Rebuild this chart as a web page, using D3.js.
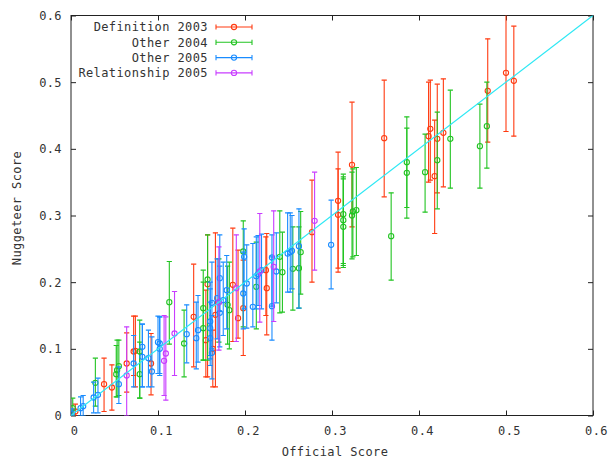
<!DOCTYPE html>
<html>
<head>
<meta charset="utf-8">
<script src="https://cdn.jsdelivr.net/npm/d3@7"></script>
<style>
  body { margin: 0; background: #fff; }
  text { font-family: "DejaVu Sans Mono", monospace; font-size: 12px; letter-spacing: 0.4px; fill: #333; }
</style>
</head>
<body>
<svg id="chart"></svg>
<script>
// data: [official, nuggeteer, low, high]
const definition2003 = [
  [0.500, 0.514, 0.426, 0.620], [0.509, 0.502, 0.419, 0.584], [0.479, 0.487, 0.410, 0.565],
  [0.360, 0.416, 0.328, 0.503], [0.428, 0.424, 0.343, 0.505], [0.413, 0.430, 0.353, 0.503],
  [0.411, 0.419, 0.350, 0.500], [0.418, 0.359, 0.273, 0.443], [0.421, 0.415, 0.334, 0.497],
  [0.323, 0.376, 0.283, 0.470], [0.307, 0.322, 0.221, 0.395], [0.307, 0.301, 0.215, 0.370],
  [0.277, 0.275, 0.200, 0.353], [0.225, 0.191, 0.121, 0.273], [0.224, 0.218, 0.150, 0.268],
  [0.198, 0.161, 0.090, 0.233], [0.192, 0.146, 0.116, 0.248], [0.186, 0.196, 0.111, 0.281],
  [0.166, 0.151, 0.043, 0.274], [0.163, 0.100, 0.043, 0.128], [0.157, 0.197, 0.058, 0.271],
  [0.155, 0.113, 0.058, 0.188], [0.141, 0.148, 0.073, 0.227], [0.092, 0.078, 0.031, 0.123],
  [0.072, 0.096, 0.060, 0.149], [0.038, 0.047, 0.006, 0.086], [0.047, 0.042, 0.008, 0.076],
  [0.064, 0.078, 0.035, 0.124], [0.074, 0.097, 0.043, 0.149], [0.005, 0.006, 0.000, 0.017]
];
const other2004 = [
  [0.478, 0.434, 0.371, 0.500], [0.470, 0.404, 0.341, 0.467], [0.436, 0.415, 0.341, 0.488],
  [0.421, 0.383, 0.310, 0.455], [0.407, 0.365, 0.305, 0.422], [0.386, 0.380, 0.296, 0.448],
  [0.386, 0.364, 0.312, 0.431], [0.368, 0.269, 0.203, 0.334], [0.328, 0.308, 0.240, 0.372],
  [0.324, 0.306, 0.238, 0.370], [0.313, 0.302, 0.222, 0.358], [0.313, 0.293, 0.228, 0.362],
  [0.313, 0.283, 0.225, 0.355], [0.323, 0.300, 0.235, 0.365], [0.264, 0.245, 0.182, 0.306],
  [0.262, 0.221, 0.161, 0.283], [0.255, 0.220, 0.158, 0.283], [0.240, 0.238, 0.154, 0.307],
  [0.243, 0.215, 0.155, 0.275], [0.213, 0.193, 0.130, 0.260], [0.198, 0.246, 0.133, 0.292],
  [0.180, 0.166, 0.107, 0.224], [0.182, 0.158, 0.100, 0.230], [0.170, 0.170, 0.110, 0.235],
  [0.157, 0.204, 0.083, 0.271], [0.152, 0.161, 0.083, 0.218], [0.152, 0.131, 0.083, 0.200],
  [0.130, 0.108, 0.058, 0.158], [0.113, 0.170, 0.107, 0.231], [0.079, 0.096, 0.026, 0.143],
  [0.079, 0.062, 0.026, 0.110], [0.053, 0.068, 0.028, 0.113], [0.052, 0.062, 0.028, 0.105],
  [0.055, 0.074, 0.030, 0.113], [0.028, 0.049, 0.014, 0.086], [0.002, 0.011, 0.000, 0.026]
];
const other2005 = [
  [0.299, 0.256, 0.190, 0.323], [0.262, 0.254, 0.161, 0.310], [0.249, 0.243, 0.185, 0.304],
  [0.252, 0.245, 0.185, 0.304], [0.254, 0.247, 0.190, 0.300], [0.236, 0.216, 0.169, 0.274],
  [0.231, 0.237, 0.164, 0.271], [0.231, 0.164, 0.113, 0.238], [0.213, 0.209, 0.160, 0.268],
  [0.215, 0.212, 0.165, 0.270], [0.219, 0.218, 0.160, 0.272], [0.209, 0.163, 0.133, 0.258],
  [0.202, 0.198, 0.131, 0.256], [0.198, 0.183, 0.130, 0.245], [0.199, 0.238, 0.160, 0.280],
  [0.179, 0.188, 0.130, 0.240], [0.175, 0.173, 0.120, 0.230], [0.171, 0.154, 0.103, 0.224],
  [0.168, 0.176, 0.115, 0.235], [0.171, 0.206, 0.156, 0.271], [0.162, 0.169, 0.100, 0.230],
  [0.160, 0.141, 0.090, 0.200], [0.160, 0.131, 0.085, 0.190], [0.160, 0.116, 0.075, 0.170],
  [0.162, 0.094, 0.055, 0.150], [0.146, 0.128, 0.080, 0.180], [0.144, 0.116, 0.070, 0.170],
  [0.133, 0.122, 0.079, 0.166], [0.102, 0.108, 0.063, 0.148], [0.102, 0.100, 0.060, 0.148],
  [0.100, 0.110, 0.063, 0.149], [0.093, 0.066, 0.043, 0.118], [0.089, 0.086, 0.043, 0.128],
  [0.082, 0.103, 0.043, 0.137], [0.082, 0.088, 0.043, 0.137], [0.072, 0.078, 0.043, 0.120],
  [0.055, 0.047, 0.018, 0.073], [0.031, 0.031, 0.004, 0.056], [0.026, 0.027, 0.004, 0.050],
  [0.014, 0.014, 0.000, 0.030], [0.011, 0.011, 0.000, 0.028], [0.001, 0.003, 0.000, 0.010]
];
const relationship2005 = [
  [0.280, 0.292, 0.218, 0.365], [0.233, 0.223, 0.141, 0.307], [0.217, 0.216, 0.140, 0.303],
  [0.190, 0.191, 0.111, 0.271], [0.170, 0.170, 0.098, 0.253], [0.119, 0.123, 0.060, 0.186],
  [0.109, 0.093, 0.023, 0.148], [0.107, 0.082, 0.030, 0.150], [0.064, 0.060, 0.000, 0.133]
];
const seriesNames = ["Definition 2003", "Other 2004", "Other 2005", "Relationship 2005"];
const seriesColors = ["#ff3a10", "#22c422", "#1a8cff", "#c83cff"];
const tickValues = [0, 0.1, 0.2, 0.3, 0.4, 0.5, 0.6];
const diagonal = [0, 0.6];

const allSeries = [definition2003, other2004, other2005, relationship2005];

const width = 608, height = 460;
const plotLeft = 71, plotRight = 593, plotTop = 15.5, plotBottom = 415.5;

const svg = d3.select("#chart").attr("width", width).attr("height", height);

const x = d3.scaleLinear().domain([0, 0.6]).range([plotLeft, plotRight]);
const y = d3.scaleLinear().domain([0, 0.6]).range([plotBottom, plotTop]);
const fmt = (d) => (d === 0 ? "0" : d3.format(".1f")(d));

svg.append("clipPath").attr("id", "plot-clip")
  .append("rect").attr("x", plotLeft).attr("y", plotTop)
  .attr("width", plotRight - plotLeft).attr("height", plotBottom - plotTop);

// axes with inward ticks on all four sides
const axisColor = "#222";
svg.append("g").attr("transform", `translate(0,${plotBottom})`)
  .call(d3.axisBottom(x).tickValues(tickValues).tickFormat(fmt).tickSizeInner(-5).tickSizeOuter(0).tickPadding(11))
  .call((g) => g.select(".domain").remove())
  .call((g) => g.selectAll("text").attr("dx", 3));
svg.append("g").attr("transform", `translate(0,${plotTop})`)
  .call(d3.axisTop(x).tickValues(tickValues).tickFormat("").tickSizeInner(-5).tickSizeOuter(0))
  .call((g) => g.select(".domain").remove());
svg.append("g").attr("transform", `translate(${plotLeft},0)`)
  .call(d3.axisLeft(y).tickValues(tickValues).tickFormat(fmt).tickSizeInner(-5).tickSizeOuter(0).tickPadding(9))
  .call((g) => g.select(".domain").remove());
svg.append("g").attr("transform", `translate(${plotRight},0)`)
  .call(d3.axisRight(y).tickValues(tickValues).tickFormat("").tickSizeInner(-5).tickSizeOuter(0))
  .call((g) => g.select(".domain").remove());
svg.selectAll(".tick line").attr("stroke", axisColor);
svg.selectAll(".tick text").attr("fill", "#333");
svg.selectAll("g").filter(function () { return this.hasAttribute("font-size"); })
  .attr("font-size", null).attr("font-family", null);

svg.append("rect")
  .attr("x", plotLeft).attr("y", plotTop)
  .attr("width", plotRight - plotLeft).attr("height", plotBottom - plotTop)
  .attr("fill", "none").attr("stroke", axisColor).attr("stroke-width", 1);

// error bars + points
const plot = svg.append("g").attr("clip-path", "url(#plot-clip)");
const cap = 2.6;
allSeries.forEach((data, i) => {
  const g = plot.append("g").attr("stroke", seriesColors[i]).attr("fill", "none").attr("stroke-width", 1.1);
  const bars = g.selectAll("g").data(data).join("g");
  bars.append("line")
    .attr("x1", (d) => x(d[0])).attr("x2", (d) => x(d[0]))
    .attr("y1", (d) => y(d[2])).attr("y2", (d) => y(d[3]));
  bars.append("line")
    .attr("x1", (d) => x(d[0]) - cap).attr("x2", (d) => x(d[0]) + cap)
    .attr("y1", (d) => y(d[2])).attr("y2", (d) => y(d[2]));
  bars.append("line")
    .attr("x1", (d) => x(d[0]) - cap).attr("x2", (d) => x(d[0]) + cap)
    .attr("y1", (d) => y(d[3])).attr("y2", (d) => y(d[3]));
  bars.append("circle")
    .attr("cx", (d) => x(d[0])).attr("cy", (d) => y(d[1])).attr("r", 2.6);
});

// y = x reference line
plot.append("path")
  .datum(diagonal)
  .attr("d", d3.line().x((d) => x(d)).y((d) => y(d)))
  .attr("stroke", "#2ee8f4").attr("stroke-width", 1.2).attr("fill", "none");

// legend
const legend = svg.append("g");
seriesNames.forEach((name, i) => {
  const ly = 27 + i * 15.3;
  legend.append("text").attr("x", 208).attr("y", ly).attr("dy", "0.35em")
    .attr("text-anchor", "end").text(name);
  const lg = legend.append("g").attr("stroke", seriesColors[i]).attr("fill", "none").attr("stroke-width", 1.1);
  lg.append("line").attr("x1", 216).attr("x2", 252).attr("y1", ly).attr("y2", ly);
  lg.append("line").attr("x1", 216).attr("x2", 216).attr("y1", ly - cap).attr("y2", ly + cap);
  lg.append("line").attr("x1", 252).attr("x2", 252).attr("y1", ly - cap).attr("y2", ly + cap);
  lg.append("circle").attr("cx", 234).attr("cy", ly).attr("r", 2.6);
});

// axis titles
svg.append("text").attr("x", (plotLeft + plotRight) / 2 + 3).attr("y", 452).attr("dy", "0.35em")
  .attr("text-anchor", "middle").text("Official Score");
svg.append("text").attr("transform", "translate(17,208) rotate(-90)").attr("dy", "0.35em")
  .attr("text-anchor", "middle").text("Nuggeteer Score");
</script>
</body>
</html>
